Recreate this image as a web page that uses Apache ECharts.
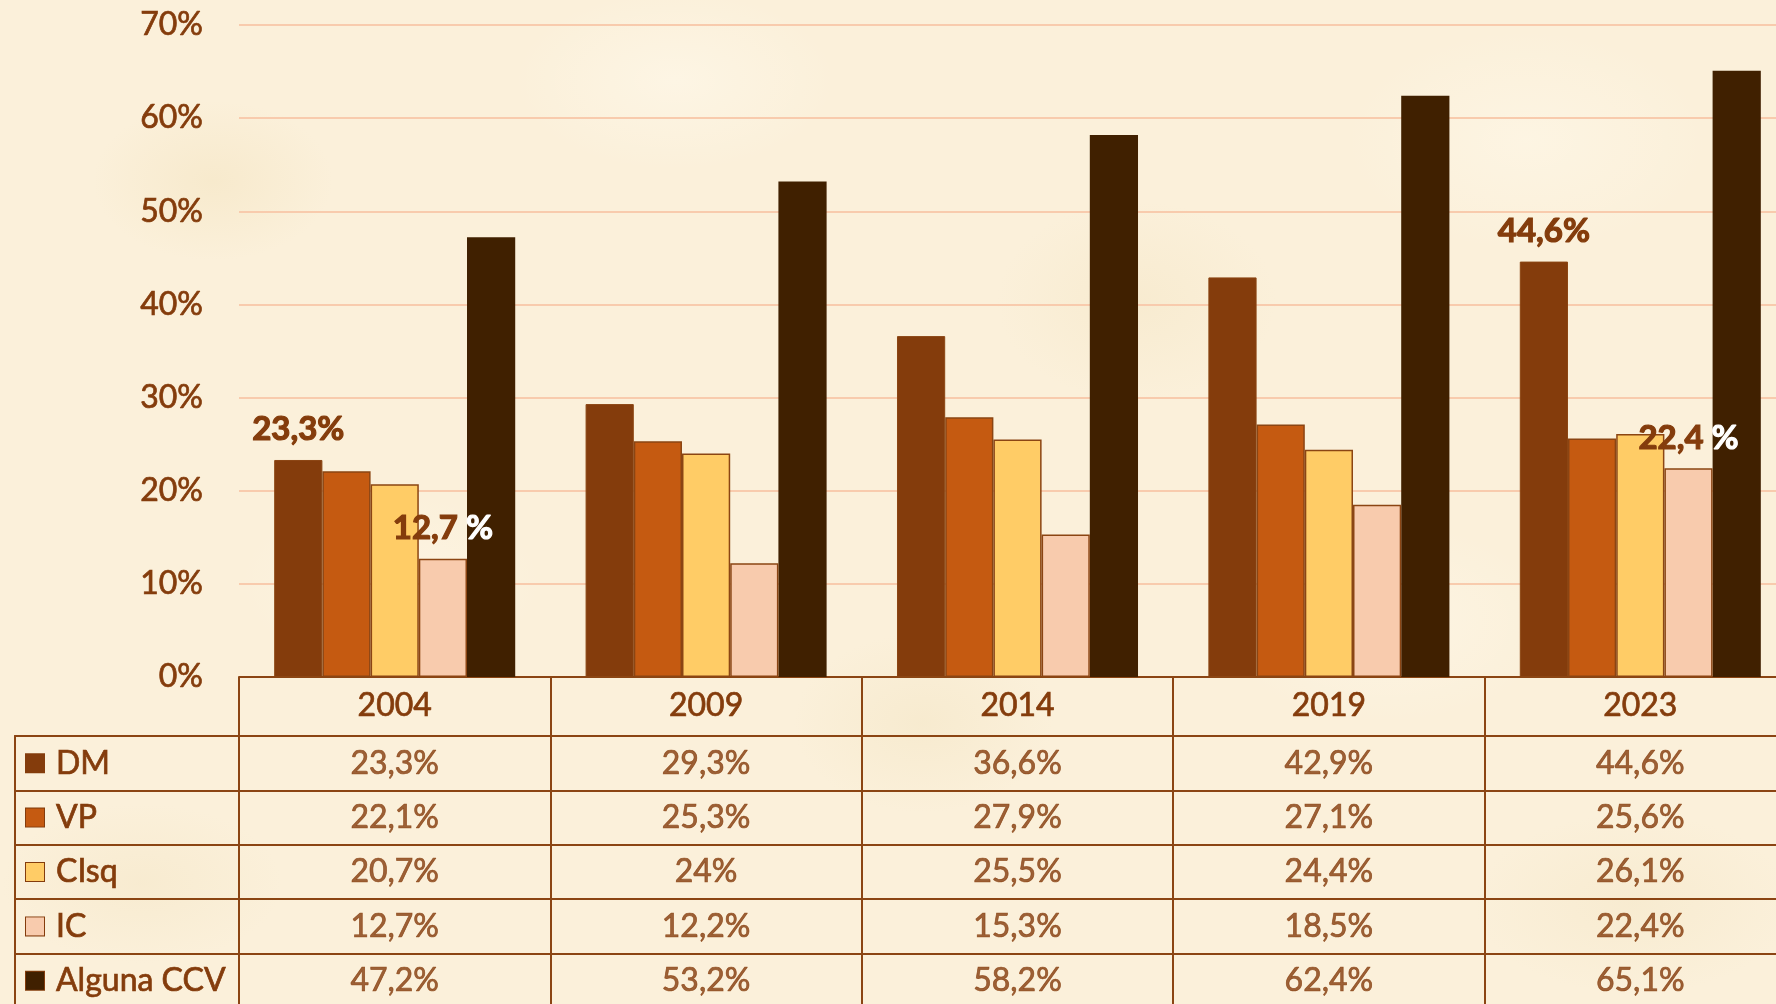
<!DOCTYPE html>
<html>
<head>
<meta charset="utf-8">
<script src="https://cdn.jsdelivr.net/npm/echarts@6/dist/echarts.min.js"></script>
<style>
  html, body { margin: 0; padding: 0; }
  body {
    background-color: #fbf0da;
    background-image:
      radial-gradient(ellipse 120px 80px at 12% 18%, rgba(240, 222, 180, 0.35), transparent),
      radial-gradient(ellipse 160px 90px at 38% 8%, rgba(255, 250, 238, 0.5), transparent),
      radial-gradient(ellipse 140px 100px at 64% 30%, rgba(240, 224, 185, 0.3), transparent),
      radial-gradient(ellipse 180px 110px at 86% 14%, rgba(255, 249, 235, 0.5), transparent),
      radial-gradient(ellipse 150px 90px at 22% 58%, rgba(255, 249, 236, 0.45), transparent),
      radial-gradient(ellipse 130px 90px at 52% 72%, rgba(238, 222, 182, 0.3), transparent),
      radial-gradient(ellipse 170px 100px at 78% 62%, rgba(255, 250, 238, 0.45), transparent),
      radial-gradient(ellipse 140px 80px at 8% 88%, rgba(240, 224, 186, 0.3), transparent),
      radial-gradient(ellipse 160px 90px at 92% 90%, rgba(240, 224, 186, 0.3), transparent);
  }
  #main { width: 1776px; height: 1004px; }
</style>
</head>
<body>
<div id="main"></div>
<script>
// datos
var years = ['2004', '2009', '2014', '2019', '2023']
var seriesNames = ['DM', 'VP', 'CIsq', 'IC', 'Alguna CCV']
var dm = [23.3, 29.3, 36.6, 42.9, 44.6]
var vp = [22.1, 25.3, 27.9, 27.1, 25.6]
var cisq = [20.7, 24, 25.5, 24.4, 26.1]
var ic = [12.7, 12.2, 15.3, 18.5, 22.4]
var ccv = [47.2, 53.2, 58.2, 62.4, 65.1]
var yTicks = [0, 10, 20, 30, 40, 50, 60, 70]
// etiquetas visibles sobre las barras (indices de año)
var dmLabelIdx = [0, 4]
var icLabelIdx = [0, 4]

var allValues = [dm, vp, cisq, ic, ccv]
var colors = ['#843c0c', '#c55a11', '#ffcc66', '#f8cbad', '#402000']
var txt = '#843c0c'
var lineCol = '#8b4513'
var font = 'Lato'
// trazo fino para engrosar un poco el texto (como Calibri)
var thick = { textBorderColor: txt, textBorderWidth: 0.7 }

function fmt(v) { return String(v).replace('.', ',') }

var myChart = echarts.init(document.getElementById('main'))

function barData(vals, labelIdx, rich) {
  return vals.map(function (v, i) {
    if (labelIdx.indexOf(i) < 0) return v
    return { value: v, label: { show: true, formatter: rich } }
  })
}

var tableData = []
allValues.forEach(function (arr, s) {
  arr.forEach(function (v, i) { tableData.push([i, s, v]) })
})

var legendRich = {
  t: Object.assign({ color: txt, fontSize: 32, fontFamily: font, padding: [0, 0, 0, 12] }, thick)
}
colors.forEach(function (c, i) {
  legendRich['sq' + i] = { width: 18, height: 18, backgroundColor: c, borderColor: txt, borderWidth: 1 }
})

var barLabelRich = {
  a: { color: txt, fontSize: 33, fontWeight: 700, fontFamily: font, textBorderColor: txt, textBorderWidth: 1.2 },
  b: { color: '#ffffff', fontSize: 33, fontWeight: 700, fontFamily: font, textBorderColor: '#ffffff', textBorderWidth: 1.2 }
}

// ancho de la rejilla: 5 categorias de ~311.5 px (la ultima queda cortada)
var gridW = 1557

var option = {
  animation: false,
  backgroundColor: 'transparent',
  textStyle: { fontFamily: font },
  grid: [
    { left: 239, width: gridW, top: 25, bottom: 327, outerBoundsMode: 'none' },
    { left: 15, width: 224, top: 736, height: 272, outerBoundsMode: 'none' },
    { left: 239, width: gridW, top: 736, height: 272, outerBoundsMode: 'none' }
  ],
  xAxis: [
    {
      gridIndex: 0, type: 'category', data: years,
      axisLine: { lineStyle: { color: lineCol, width: 2 } },
      axisTick: { show: true, length: 331, lineStyle: { color: lineCol, width: 2 } },
      axisLabel: Object.assign({ color: txt, fontSize: 32, fontFamily: font, margin: 29, verticalAlign: 'middle' }, thick)
    },
    {
      gridIndex: 1, type: 'value', position: 'top',
      axisLine: { show: true, onZero: false, lineStyle: { color: lineCol, width: 2 } },
      axisTick: { show: false }, axisLabel: { show: false }, splitLine: { show: false }
    },
    {
      gridIndex: 2, type: 'category', data: years, position: 'top',
      axisLine: { show: true, lineStyle: { color: lineCol, width: 2 } },
      axisTick: { show: false }, axisLabel: { show: false }
    }
  ],
  yAxis: [
    {
      gridIndex: 0, type: 'value', min: 0, max: 70, interval: 10,
      axisLine: { show: false }, axisTick: { show: false },
      axisLabel: Object.assign({ color: txt, fontSize: 32, fontFamily: font, margin: 36, formatter: '{value}%' }, thick),
      splitLine: { lineStyle: { color: '#f8cbad', width: 2 } }
    },
    {
      gridIndex: 1, type: 'category', data: seriesNames, inverse: true,
      axisLine: { show: true, lineStyle: { color: lineCol, width: 2 } },
      axisTick: { show: false },
      axisLabel: {
        inside: true, margin: 11,
        formatter: function (v, i) { return '{sq' + i + '|}{t|' + v + '}' },
        rich: legendRich
      },
      splitLine: { show: true, lineStyle: { color: lineCol, width: 2 } }
    },
    {
      gridIndex: 2, type: 'category', data: seriesNames, inverse: true,
      axisLine: { show: false }, axisTick: { show: false }, axisLabel: { show: false },
      splitLine: { show: true, lineStyle: { color: lineCol, width: 2 } }
    }
  ],
  series: [
    {
      name: 'DM', type: 'bar', barGap: '0%', barCategoryGap: '22.6%',
      itemStyle: { color: colors[0], borderColor: lineCol, borderWidth: 1 },
      label: { show: false, position: 'top', distance: 14, fontWeight: 700, rich: barLabelRich },
      data: barData(dm, dmLabelIdx, function (p) { return '{a|' + fmt(p.value) + '%}' })
    },
    {
      name: 'VP', type: 'bar',
      itemStyle: { color: colors[1], borderColor: lineCol, borderWidth: 1.5 },
      data: vp
    },
    {
      name: 'CIsq', type: 'bar',
      itemStyle: { color: colors[2], borderColor: lineCol, borderWidth: 1.5 },
      data: cisq
    },
    {
      name: 'IC', type: 'bar', z: 3,
      itemStyle: { color: colors[3], borderColor: lineCol, borderWidth: 1.5 },
      label: { show: false, position: 'top', distance: 14, fontWeight: 700, rich: barLabelRich },
      data: barData(ic, icLabelIdx, function (p) { return '{a|' + fmt(p.value) + ' }{b|%}' })
    },
    {
      name: 'Alguna CCV', type: 'bar', z: 2,
      itemStyle: { color: colors[4] },
      data: ccv
    },
    {
      type: 'scatter', xAxisIndex: 2, yAxisIndex: 2,
      symbolSize: 1, itemStyle: { color: 'rgba(0,0,0,0)' },
      label: Object.assign({
        show: true, position: 'inside', color: txt, fontSize: 32, fontFamily: font,
        formatter: function (p) { return fmt(p.value[2]) + '%' }
      }, thick),
      data: tableData
    }
  ]
}

myChart.setOption(option)
</script>
</body>
</html>
